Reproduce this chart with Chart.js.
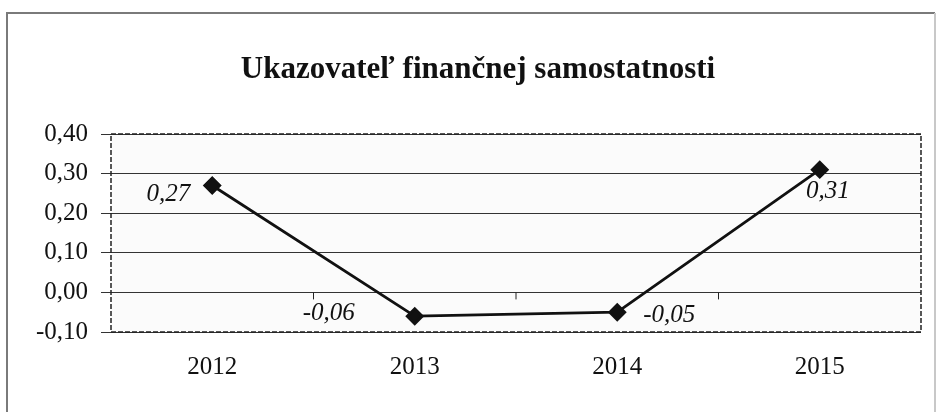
<!DOCTYPE html>
<html>
<head>
<meta charset="utf-8">
<script src="https://cdn.jsdelivr.net/npm/chart.js@4.4.1/dist/chart.umd.min.js"></script>
<style>
html,body{margin:0;padding:0;background:#fff;}
#wrap{width:940px;height:412px;position:relative;}
</style>
</head>
<body>
<div id="wrap"><canvas id="c" width="940" height="412"></canvas></div>
<script>
const titleText = "Ukazovateľ finančnej samostatnosti";
const categories = ["2012", "2013", "2014", "2015"];
const values = [0.27, -0.06, -0.05, 0.31];
const yTicks = [-0.10, 0.00, 0.10, 0.20, 0.30, 0.40];

const fmt = v => v.toFixed(2).replace('.', ',');
const SERIF = '"Liberation Serif","Times New Roman",serif';

// label offsets relative to marker: [dx, dy, align]
const labelPlace = [[-22, 9, 'right'], [-60, -3, 'right'], [26, 3, 'left'], [8, 22, 'center']];

const decor = {
  id: 'decor',
  beforeDraw(chart) {
    const {ctx, chartArea: a} = chart;
    ctx.save();
    ctx.fillStyle = '#fff';
    ctx.fillRect(0, 0, chart.width, chart.height);
    ctx.fillStyle = '#fbfbfb';
    ctx.fillRect(a.left, a.top, a.right - a.left, a.bottom - a.top);
    // outer frame
    ctx.strokeStyle = '#7a7a7a';
    ctx.lineWidth = 2;
    ctx.beginPath();
    ctx.moveTo(7, 412); ctx.lineTo(7, 13); ctx.lineTo(935, 13);
    ctx.stroke();
    ctx.strokeStyle = '#c8c8c8';
    ctx.beginPath();
    ctx.moveTo(935, 13); ctx.lineTo(935, 412);
    ctx.stroke();
    // title
    ctx.fillStyle = '#111';
    ctx.font = 'bold 31px ' + SERIF;
    ctx.textAlign = 'center';
    ctx.textBaseline = 'middle';
    ctx.fillText(titleText, 478, 70);
    ctx.restore();
  },
  afterDatasetsDraw(chart) {
    const {ctx, chartArea: a} = chart;
    const xs = chart.scales.x, ys = chart.scales.y;
    ctx.save();
    // dashed plot border
    ctx.strokeStyle = '#222';
    ctx.lineWidth = 1.5;
    ctx.setLineDash([5, 2]);
    ctx.strokeRect(a.left, a.top, a.right - a.left, a.bottom - a.top);
    ctx.setLineDash([]);
    // category tick marks on zero line
    const y0 = ys.getPixelForValue(0);
    ctx.lineWidth = 1;
    for (let i = 0; i < categories.length - 1; i++) {
      const x = (xs.getPixelForValue(i) + xs.getPixelForValue(i + 1)) / 2;
      ctx.beginPath(); ctx.moveTo(x, y0); ctx.lineTo(x, y0 + 7); ctx.stroke();
    }
    // data labels
    const meta = chart.getDatasetMeta(0);
    ctx.fillStyle = '#111';
    ctx.font = 'italic 25px ' + SERIF;
    ctx.textBaseline = 'middle';
    meta.data.forEach((pt, i) => {
      const [dx, dy, al] = labelPlace[i];
      ctx.textAlign = al;
      ctx.fillText(fmt(values[i]), pt.x + dx, pt.y + dy);
    });
    ctx.restore();
  }
};

new Chart(document.getElementById('c'), {
  type: 'line',
  data: {
    labels: categories,
    datasets: [{
      data: values,
      borderColor: '#111',
      borderWidth: 2.8,
      pointStyle: 'rectRot',
      pointRadius: 7.5,
      pointHoverRadius: 7.5,
      pointBackgroundColor: '#111',
      pointBorderColor: '#111',
      tension: 0
    }]
  },
  options: {
    responsive: false,
    animation: false,
    events: [],
    layout: {padding: {top: 134, right: 19, left: 0, bottom: 0}},
    plugins: {legend: {display: false}, title: {display: false}, tooltip: {enabled: false}},
    scales: {
      x: {
        type: 'category',
        offset: true,
        grid: {display: false, drawTicks: false},
        border: {display: false},
        ticks: {color: '#111', font: {family: SERIF, size: 25}, padding: 20, maxRotation: 0},
        afterFit(s) { s.height = 80; }
      },
      y: {
        min: -0.10, max: 0.40,
        afterBuildTicks(s) { s.ticks = yTicks.map(v => ({value: v})); },
        grid: {color: '#333', lineWidth: 1, tickLength: 10, drawTicks: true},
        border: {display: false},
        ticks: {color: '#111', font: {family: SERIF, size: 25}, padding: 13, callback: v => fmt(v)},
        afterFit(s) { s.width = 111; }
      }
    }
  },
  plugins: [decor]
});
</script>
</body>
</html>
